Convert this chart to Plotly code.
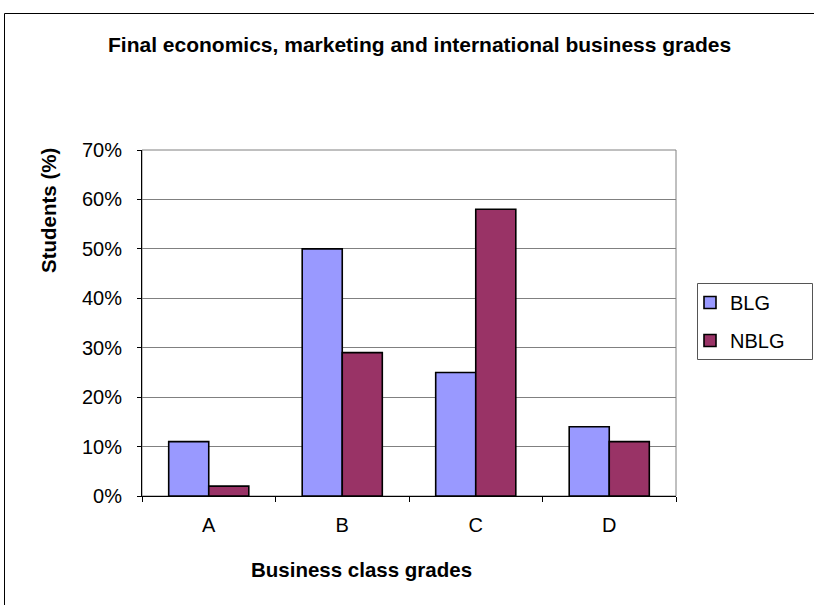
import plotly.graph_objects as go

# Grade categories and share of students per group (percent)
grades = ["A", "B", "C", "D"]
blg = [11, 50, 25, 14]
nblg = [2, 29, 58, 11]
y_ticks = [0, 10, 20, 30, 40, 50, 60, 70]

W, H = 814, 605
L, R, T, B = 142, 138, 150, 109
pw, ph = W - L - R, H - T - B


def px_x(x):
    return (x - L) / pw


def px_y(y):
    return (H - B - y) / ph


fig = go.Figure()
fig.add_trace(go.Bar(name="BLG", x=grades, y=blg, legendgroup="g1",
                     marker=dict(color="#9999FF", line=dict(color="black", width=1.6))))
fig.add_trace(go.Bar(name="NBLG", x=grades, y=nblg, legendgroup="g2",
                     marker=dict(color="#993366", line=dict(color="black", width=1.6))))

font = "Arial, Liberation Sans, sans-serif"

fig.update_layout(
    width=W, height=H,
    margin=dict(l=L, r=R, t=T, b=B),
    paper_bgcolor="white", plot_bgcolor="white",
    barmode="group", bargap=0.4, bargroupgap=0,
    font=dict(family=font, size=20, color="black"),
    showlegend=True,
    legend=dict(x=px_x(690), y=px_y(283), xanchor="left", yanchor="top",
                borderwidth=0, bgcolor="rgba(0,0,0,0)",
                font=dict(size=20), traceorder="grouped", tracegroupgap=9),
    xaxis=dict(type="category", tickson="boundaries", ticks="outside", ticklen=5,
               tickcolor="black", showline=True, linecolor="black", linewidth=1,
               showgrid=False, ticklabelstandoff=11, range=[-0.5, 3.5]),
    yaxis=dict(range=[0, 70], tickvals=y_ticks, ticktext=[f"{v}%" for v in y_ticks],
               ticks="outside", ticklen=4, tickcolor="black",
               showline=True, linecolor="black", linewidth=1,
               showgrid=True, gridcolor="#808080", gridwidth=1,
               zeroline=False, ticklabelstandoff=11),
    shapes=[
        # plot area frame
        dict(type="rect", xref="paper", yref="paper", x0=0, x1=1, y0=0, y1=1,
             line=dict(color="#808080", width=1), layer="below"),
        # legend frame
        dict(type="rect", xref="paper", yref="paper", x0=px_x(697.5), x1=px_x(812.5),
             y0=px_y(359.5), y1=px_y(283.5), line=dict(color="#555555", width=1)),
        # chart border
        dict(type="rect", xref="paper", yref="paper", x0=px_x(4.5), x1=px_x(830),
             y0=px_y(620), y1=px_y(13.5), line=dict(color="black", width=1)),
    ],
    annotations=[
        dict(text="<b>Final economics, marketing and international business grades</b>",
             xref="paper", yref="paper", x=px_x(419), y=px_y(44), showarrow=False,
             font=dict(size=21), xanchor="center", yanchor="middle"),
        dict(text="<b>Business class grades</b>", xref="paper", yref="paper",
             x=px_x(361), y=px_y(569), showarrow=False, font=dict(size=20.5),
             xanchor="center", yanchor="middle"),
        dict(text="<b>Students (%)</b>", xref="paper", yref="paper",
             x=px_x(48), y=px_y(210), showarrow=False, font=dict(size=20.5),
             textangle=-90, xanchor="center", yanchor="middle"),
    ],
)

fig.write_html("out.html")
